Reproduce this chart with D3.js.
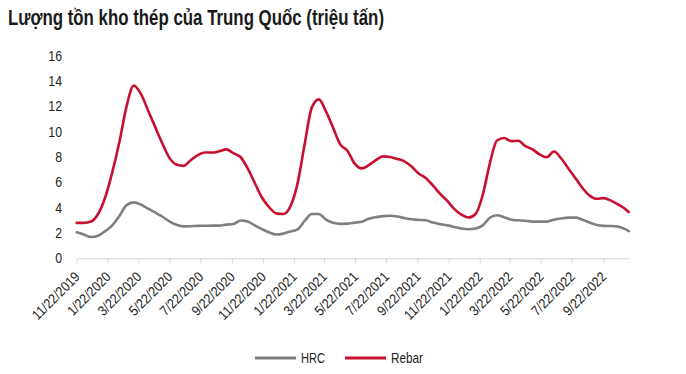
<!DOCTYPE html>
<html>
<head>
<meta charset="utf-8">
<script src="https://cdn.jsdelivr.net/npm/d3@7"></script>
<style>
  html, body { margin: 0; padding: 0; background: #fff; }
  svg { display: block; }
  text { font-family: "Liberation Sans", Arial, sans-serif; }
</style>
</head>
<body>
<svg id="chart" width="686" height="374"></svg>
<script>
// ---- data ----
const title = "Lượng tồn kho thép của Trung Quốc (triệu tấn)";
const startDate = new Date(2019, 10, 22);
const stepDays = 14;
const endDate = new Date(2022, 10, 11);
const seriesNames = ["HRC", "Rebar"];
const hrc = [2.05,1.88,1.68,1.78,2.15,2.6,3.35,4.2,4.42,4.25,3.92,3.62,3.3,2.92,2.65,2.52,2.53,2.56,2.57,2.58,
  2.58,2.66,2.71,2.98,2.9,2.6,2.3,2.05,1.88,1.95,2.12,2.28,2.95,3.5,3.5,3.05,2.8,2.72,2.74,2.82,
  2.88,3.12,3.25,3.33,3.36,3.3,3.18,3.08,3.03,3.0,2.82,2.7,2.6,2.48,2.35,2.3,2.36,2.6,3.2,3.4,
  3.25,3.05,3.0,2.96,2.9,2.9,2.9,3.05,3.15,3.21,3.21,3.05,2.82,2.63,2.56,2.55,2.5,2.3,2.15];
const rebar = [2.8,2.8,2.9,3.5,4.8,6.8,9.2,12.0,13.65,13.0,11.7,10.4,9.1,7.95,7.4,7.3,7.75,8.15,8.35,8.35,
  8.45,8.6,8.3,8.0,7.1,5.95,4.8,4.05,3.55,3.5,4.1,5.9,9.0,11.9,12.55,11.6,10.3,9.0,8.5,7.5,
  7.1,7.35,7.75,8.05,8.0,7.85,7.65,7.25,6.7,6.35,5.75,5.1,4.55,3.9,3.45,3.22,3.5,5.0,7.5,9.3,
  9.5,9.25,9.28,8.85,8.6,8.2,7.98,8.43,7.9,7.12,6.35,5.55,4.95,4.7,4.75,4.55,4.25,3.9,3.65];
const yTicks = [0, 2, 4, 6, 8, 10, 12, 14, 16];
const xTickLabels = ["11/22/2019","1/22/2020","3/22/2020","5/22/2020","7/22/2020","9/22/2020",
  "11/22/2020","1/22/2021","3/22/2021","5/22/2021","7/22/2021","9/22/2021","11/22/2021",
  "1/22/2022","3/22/2022","5/22/2022","7/22/2022","9/22/2022"];
const colors = ["#7f7f7f", "#c8102e"];

// dates for the points (every 14 days, plus the final week)
const dates = d3.range(hrc.length - 1).map(i => d3.timeDay.offset(startDate, i * stepDays)).concat([endDate]);
const parse = d3.timeParse("%m/%d/%Y");
const tickDates = xTickLabels.map(parse);

const svg = d3.select("#chart");
const plotLeft = 76.7, plotRight = 630, plotTop = 55.7, plotBottom = 258.3;
const FONT = '"Liberation Sans", Arial, sans-serif';

const x = d3.scaleTime()
  .domain([startDate, parse("9/22/2022")])
  .range([plotLeft, 603.3]);
const y = d3.scaleLinear().domain([0, 16]).range([plotBottom, plotTop]);

// title
svg.append("text")
  .attr("x", 8).attr("y", 25)
  .attr("font-size", 22).attr("font-weight", "bold").attr("fill", "#1a1a1a")
  .attr("textLength", 376).attr("lengthAdjust", "spacingAndGlyphs")
  .text(title);

// y axis labels
const yAxis = d3.axisLeft(y).tickValues(yTicks).tickSize(0).tickPadding(0).tickFormat(d3.format("d"));
const gy = svg.append("g").attr("transform", `translate(${62},0)`).call(yAxis);
gy.select(".domain").remove();
gy.selectAll("text").attr("font-size", 14).attr("fill", "#222")
  .style("font-family", FONT)
  .attr("transform", "scale(0.88,1)");

// x axis
const xAxis = d3.axisBottom(x).tickValues(tickDates).tickSize(5).tickFormat((d, i) => xTickLabels[i]);
const gx = svg.append("g").attr("transform", `translate(0,${plotBottom})`).call(xAxis);
gx.select(".domain").remove();
gx.append("line").attr("x1", plotLeft).attr("x2", plotRight).attr("y1", 0.5).attr("y2", 0.5)
  .attr("stroke", "#d9d9d9").attr("stroke-width", 1);
gx.selectAll(".tick line").attr("stroke", "#d9d9d9");
gx.selectAll(".tick text")
  .attr("font-size", 14).attr("fill", "#222")
  .style("font-family", FONT)
  .attr("text-anchor", "end")
  .attr("x", 0).attr("y", 0).attr("dy", "0.35em")
  .attr("transform", "translate(0,16) rotate(-45) scale(0.88,1)");

// lines
const line = d3.line().x((d, i) => x(dates[i])).y(d => y(d)).curve(d3.curveMonotoneX);
[hrc, rebar].forEach((s, j) => {
  svg.append("path").datum(s)
    .attr("fill", "none").attr("stroke", colors[j]).attr("stroke-width", 2.6)
    .attr("stroke-linejoin", "round").attr("stroke-linecap", "round")
    .attr("d", line);
});

// legend
const legendX = [255, 345];
const legendW = [24, 32];
seriesNames.forEach((n, j) => {
  const g = svg.append("g").attr("transform", `translate(${legendX[j]},358)`);
  g.append("line").attr("x1", 0).attr("x2", 41).attr("y1", 0).attr("y2", 0)
    .attr("stroke", colors[j]).attr("stroke-width", 3);
  g.append("text").attr("x", 46).attr("y", 0).attr("dy", "0.36em")
    .attr("font-size", 14.5).attr("fill", "#222")
    .attr("textLength", legendW[j]).attr("lengthAdjust", "spacingAndGlyphs")
    .text(n);
});
</script>
</body>
</html>
